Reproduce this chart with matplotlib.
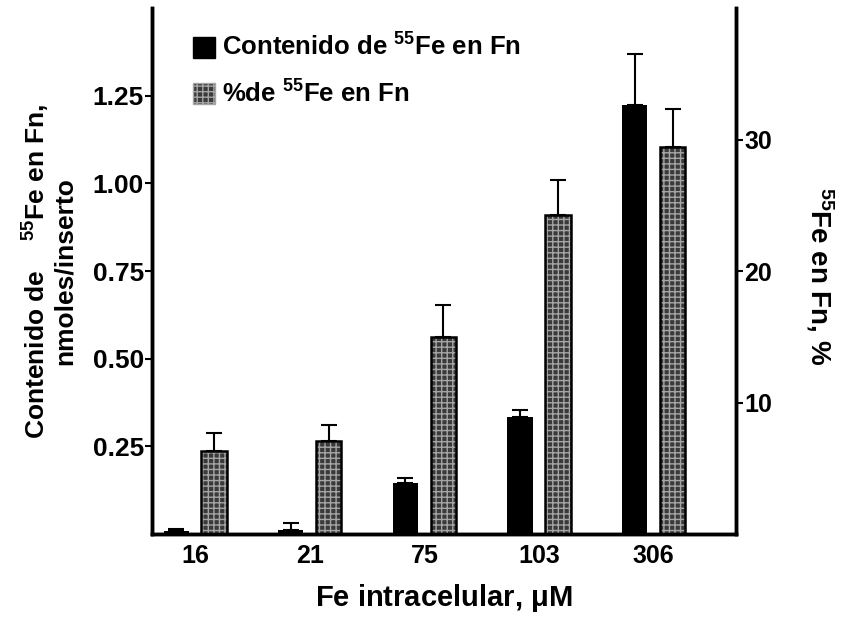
import numpy as np
import matplotlib
matplotlib.use("Agg")
import matplotlib.pyplot as plt
from matplotlib.patches import Patch

# =======================
# datos
# =======================
fe_intracelular = ['16', '21', '75', '103', '306']
contenido_fe = [0.01, 0.012, 0.145, 0.333, 1.225]      # nmoles/inserto (eje izq)
contenido_err = [0.004, 0.02, 0.015, 0.02, 0.145]
porcentaje_fe = [6.3, 7.1, 15.0, 24.3, 29.4]            # % (eje der)
porcentaje_err = [1.4, 1.2, 2.4, 2.6, 2.9]

plt.rcParams['font.family'] = ['Liberation Sans', 'DejaVu Sans']
plt.rcParams['font.weight'] = 'bold'
plt.rcParams['mathtext.fontset'] = 'custom'
plt.rcParams['mathtext.rm'] = 'Liberation Sans:bold'
plt.rcParams['mathtext.bf'] = 'Liberation Sans:bold'
plt.rcParams['mathtext.default'] = 'bf'

fig = plt.figure(figsize=(8.55, 6.21), dpi=100)
ax = fig.add_axes([0.178, 0.140, 0.683, 0.847])
ax2 = ax.twinx()

x = np.arange(len(fe_intracelular))
ancho = 0.22
desp = 0.165
cor_fundo = '#3a3a3a'
cor_ponto = '#a5a5a5'

# barras negras (contenido)
ax.bar(x - desp, contenido_fe, ancho, color='black', zorder=2)
ax.errorbar(x - desp, contenido_fe, yerr=[np.zeros(len(x)), contenido_err],
            fmt='none', ecolor='black', elinewidth=1.5, capsize=6, capthick=1.5, zorder=3)

# barras punteadas (porcentaje)
ax2.bar(x + desp, porcentaje_fe, ancho, color=cor_fundo, hatch='+++',
        edgecolor=cor_ponto, linewidth=0, zorder=2)
ax2.bar(x + desp, porcentaje_fe, ancho, fill=False, edgecolor='black',
        linewidth=1.8, zorder=3)
ax2.errorbar(x + desp, porcentaje_fe, yerr=[np.zeros(len(x)), porcentaje_err],
             fmt='none', ecolor='black', elinewidth=1.5, capsize=6, capthick=1.5, zorder=4)

ax.set_xlim(-0.375, 4.72)
ax.set_ylim(0, 1.5)
ax2.set_ylim(0, 40)

ax.set_xticks(x)
ax.set_xticklabels(fe_intracelular, fontsize=18, fontweight='bold')
ax.tick_params(axis='x', length=0, pad=7)
ax.set_yticks([0.25, 0.5, 0.75, 1.0, 1.25])
ax.set_yticklabels(['0.25', '0.50', '0.75', '1.00', '1.25'], fontsize=19, fontweight='bold')
ax.tick_params(axis='y', length=5, width=1.5, pad=1)
ax2.set_yticks([10, 20, 30])
ax2.set_yticklabels(['10', '20', '30'], fontsize=18, fontweight='bold')
ax2.tick_params(axis='y', length=5, width=1.5, pad=1)

for a in (ax, ax2):
    a.spines['top'].set_visible(False)
    for s in ('left', 'right', 'bottom'):
        a.spines[s].set_linewidth(2.5)

ax.set_xlabel(r'Fe intracelular, $\mu$M', fontsize=21, fontweight='bold', labelpad=10)
ax.set_ylabel('Contenido de    $^{55}$Fe en Fn,\nnmoles/inserto', fontsize=19,
              fontweight='bold', linespacing=1.0)
ax.yaxis.set_label_coords(-0.13, 0.5)
ax2.set_ylabel('$^{55}$Fe en Fn, %', fontsize=20, fontweight='bold', rotation=-90)
ax2.yaxis.set_label_coords(1.17, 0.49)

handles = [Patch(facecolor='black', edgecolor='black'),
           Patch(facecolor=cor_fundo, hatch='+++', edgecolor=cor_ponto)]
leg = ax.legend(handles, ['Contenido de $^{55}$Fe en Fn', '%de $^{55}$Fe en Fn'],
                loc='upper left', bbox_to_anchor=(0.03, 0.995), frameon=False,
                prop={'size': 18.5, 'weight': 'bold'}, handlelength=0.85,
                handleheight=0.9, handletextpad=0.3, labelspacing=0.75)

fig.savefig('out.png', dpi=100)
